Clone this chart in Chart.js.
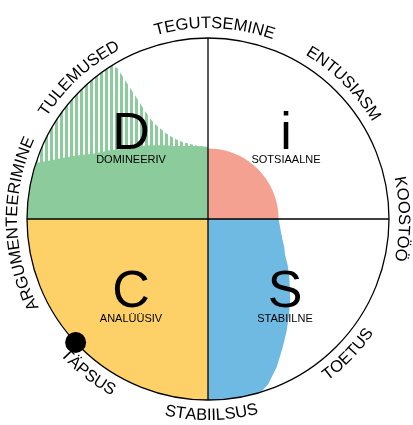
<!DOCTYPE html>
<html><head><meta charset="utf-8">
<style>html,body{margin:0;padding:0;background:#fff;overflow:hidden}#wrap{width:413px;height:425px;position:relative}</style>
<script src="https://cdn.jsdelivr.net/npm/chart.js@4/dist/chart.umd.min.js"></script>
</head><body><div id="wrap"><canvas id="c"></canvas></div>
<script>
// Angles: degrees clockwise from the top. Values: percent of the outer circle radius.
const greenAngles = [270,275,280,285,288,290,295,300,305,310,315,320,325,330,335,340,345,350,355,360];
const greenValues = [100,100,100,100,100,93.9,82.3,72.4,66.3,60.2,56.4,53,49.7,47,44.5,42.9,41.8,40.9,40.3,39.8];
const hatchAngles = [270,275,280,285,290,295,300,305,310,315,320,325,328,329,330,331,332,333,334,336,338,340,343,346,350,355,360];
const hatchValues = [100,100,100,100,100,100,100,100,100,100,100,100,100,97.2,64.1,59.7,56.9,54.7,52.5,49.7,47.5,45.9,44.2,42.8,41.4,40.1,39.8];
const pinkAngles = [0,5,10,15,20,25,30,35,40,45,50,55,60,65,70,75,80,85,90];
const pinkValues = [39,39,39,39,39,39,39,39,39,39,39,39,39,39,39,39,39,39,39];
const blueAngles = [90,95,100,105,110,115,120,125,130,135,140,145,150,155,160,163,165,170,175,180];
const blueValues = [39,39.8,40.9,42.5,44.8,47,50.8,54.7,59.1,64.1,69.6,75.7,82.3,90,97.2,100,100,100,100,100];
const yellowAngles = [180,185,190,195,200,205,210,215,220,225,230,235,240,245,250,255,260,265,270];
const yellowValues = [100,100,100,100,100,100,100,100,100,100,100,100,100,100,100,100,100,100,100];
const dotAngles = [227];
const dotValues = [100];

const axisLabels = ['TEGUTSEMINE','ENTUSIASM','KOOSTÖÖ','TOETUS','STABIILSUS','TÄPSUS','ARGUMENTEERIMINE','TULEMUSED'];
const axisLabelAngles = [2,45,90,134,179,218,268.5,317.5];
const quadrantLetters = ['D','i','S','C'];
const quadrantNames = ['DOMINEERIV','SOTSIAALNE','STABIILNE','ANALÜÜSIV'];

const degreeLabels = Array.from({length:360},(_,i)=>String(i));

function buildSeries(angles, values, centerAt){
  const arr = new Array(360).fill(null);
  angles.forEach((a,i)=>{ arr[a%360] = values[i]; });
  if (centerAt !== undefined) arr[centerAt] = 0;
  return arr;
}

function makeHatch(color){
  const c = document.createElement('canvas');
  c.width = 5; c.height = 10;
  const x = c.getContext('2d');
  x.fillStyle = color; x.fillRect(0,0,3,10);
  return x.createPattern(c,'repeat');
}

const GREEN='#8CCB9C', PINK='#F4A191', BLUE='#6EBAE2', YELLOW='#FED068';
const FONT="'Liberation Sans', Arial, Helvetica, sans-serif";

function drawArcText(ctx, text, cx, cy, angleDeg, radius, bottom){
  ctx.save();
  ctx.font = '16.5px ' + FONT;
  ctx.fillStyle = '#000';
  ctx.textAlign = 'center';
  ctx.textBaseline = 'alphabetic';
  const chars = [...text];
  const widths = chars.map(ch => ctx.measureText(ch).width);
  const total = widths.reduce((a,b)=>a+b,0);
  const a0 = angleDeg*Math.PI/180;
  let acc = 0;
  chars.forEach((ch,i)=>{
    const mid = acc + widths[i]/2; acc += widths[i];
    ctx.save(); ctx.translate(cx,cy);
    if (!bottom){
      ctx.rotate(a0 - total/(2*radius) + mid/radius);
      ctx.fillText(ch,0,-radius);
    } else {
      ctx.rotate(a0 + total/(2*radius) - mid/radius - Math.PI);
      ctx.fillText(ch,0,radius);
    }
    ctx.restore();
  });
  ctx.restore();
}

const textPlugin = {
  id:'discText',
  afterDraw(chart){
    const s = chart.scales.r, ctx = chart.ctx;
    const cx = s.xCenter, cy = s.yCenter;
    axisLabels.forEach((t,i)=>{
      const a = axisLabelAngles[i];
      const bottom = a > 100 && a < 250;
      drawArcText(ctx, t, cx, cy, a, bottom ? 201 : 191, bottom);
    });
    const pos = [[-77,-1],[78,-1],[77,1],[-77,1]];
    ctx.save();
    ctx.fillStyle = '#000'; ctx.textAlign='center'; ctx.textBaseline='alphabetic';
    quadrantLetters.forEach((L,i)=>{
      const [dx,side] = pos[i];
      ctx.font = '52px ' + FONT;
      ctx.fillText(L, cx+dx, side<0 ? cy-70 : cy+88);
      ctx.font = '11px ' + FONT;
      ctx.fillText(quadrantNames[i], cx+dx, side<0 ? cy-56 : cy+103);
    });
    ctx.restore();
  }
};

const common = {borderWidth:0, borderColor:'rgba(0,0,0,0)', pointRadius:0, pointHoverRadius:0, spanGaps:true, fill:'shape'};

new Chart(document.getElementById('c'), {
  type:'radar',
  data:{
    labels: degreeLabels,
    datasets:[
      {label:'position', data: buildSeries(dotAngles, dotValues), showLine:false, fill:false, pointRadius:10.5, pointHoverRadius:10.5, pointBackgroundColor:'#000', pointBorderWidth:0, borderWidth:0},
      Object.assign({label:'D', data: buildSeries(greenAngles, greenValues, 1), backgroundColor: GREEN}, common),
      Object.assign({label:'D-hatch', data: buildSeries(hatchAngles, hatchValues, 1), backgroundColor: makeHatch(GREEN)}, common),
      Object.assign({label:'i', data: buildSeries(pinkAngles, pinkValues, 359), backgroundColor: PINK}, common),
      Object.assign({label:'S', data: buildSeries(blueAngles, blueValues, 0), backgroundColor: BLUE}, common),
      Object.assign({label:'C', data: buildSeries(yellowAngles, yellowValues, 0), backgroundColor: YELLOW}, common)
    ]
  },
  options:{
    responsive:true, maintainAspectRatio:false, animation:false,
    events:[],
    layout:{padding:{left:27,right:24,top:38,bottom:25}},
    plugins:{legend:{display:false}, tooltip:{enabled:false}},
    scales:{
      r:{
        min:0, max:100,
        ticks:{display:false, stepSize:100, z:1},
        pointLabels:{display:false},
        grid:{circular:true, color:'#000', lineWidth:1.3, z:1},
        angleLines:{display:true, color:'#000', lineWidth:(c)=> (c.index % 90 === 0 ? 1.3 : 0)}
      }
    }
  },
  plugins:[textPlugin]
});
</script>
</body></html>
